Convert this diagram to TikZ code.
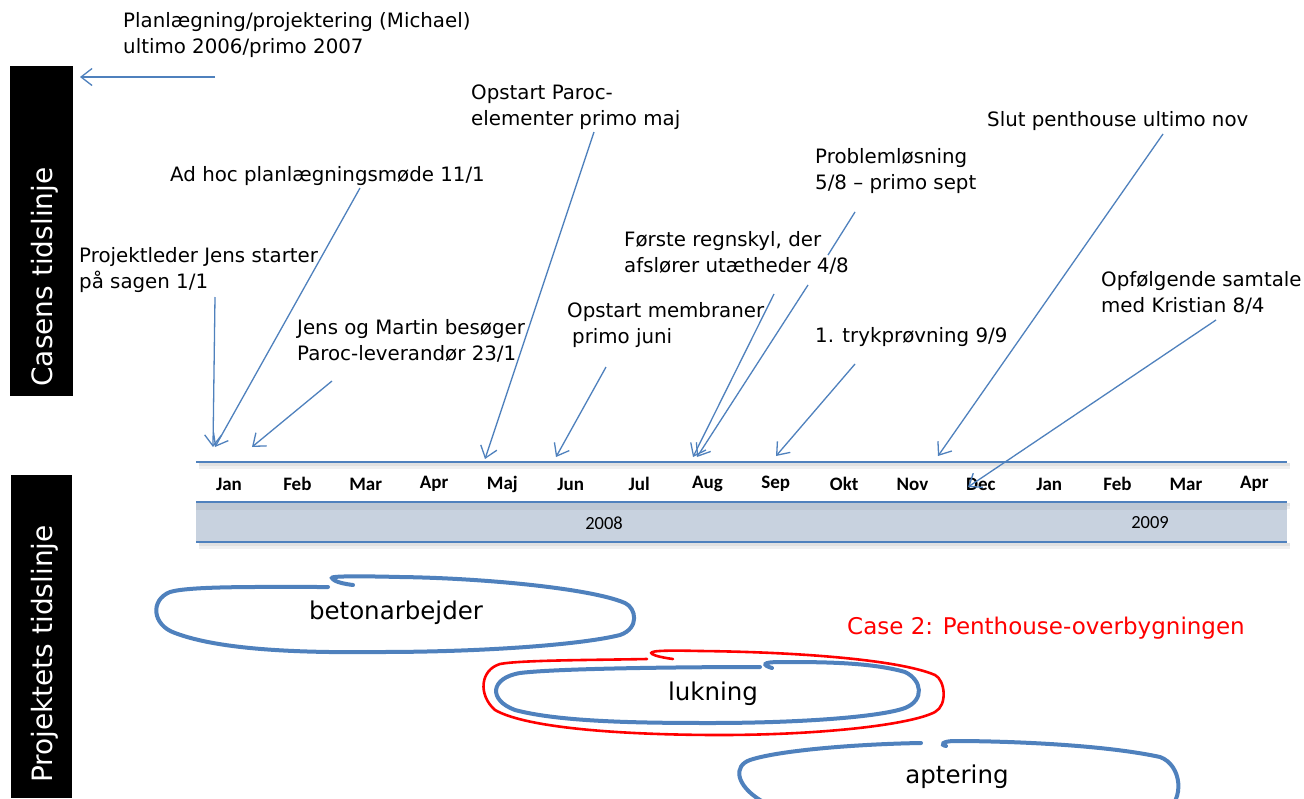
\documentclass[tikz,border=0pt]{standalone}
\usepackage{fontspec}
\setmainfont{DejaVu Sans}
\newfontfamily\calfont{Carlito}
\usetikzlibrary{arrows.meta}
\definecolor{tlblue}{RGB}{79,129,189}
\definecolor{bandfill}{RGB}{200,210,223}
\begin{document}
\begin{tikzpicture}[x=1pt,y=-1pt,
  lbl/.style={font=\fontsize{19.8}{26}\selectfont, align=left, inner sep=0pt, anchor=west},
  mon/.style={font=\calfont\bfseries\fontsize{19}{21}\selectfont, inner sep=0pt},
  yr/.style={font=\calfont\fontsize{18.5}{20}\selectfont, inner sep=0pt},
  ptr/.style={draw=tlblue, line width=1.3pt, -{Straight Barb[length=11pt,width=17pt,line width=1.3pt]}},
  tline/.style={draw=tlblue, line width=2.2pt},
  loopblue/.style={draw=tlblue, line width=4pt, line cap=round},
  loopred/.style={draw=red, line width=2.6pt, line cap=round},
  sidetext/.style={text=white, rotate=90, font=\fontsize{28}{32}\selectfont, inner sep=0pt},
  tasktext/.style={font=\fontsize{24.5}{28}\selectfont, inner sep=0pt}
]
\useasboundingbox (0,0) rectangle (1304,798);
\clip (0,0) rectangle (1304,798);
\fill[white] (0,0) rectangle (1304,798);

% side bars
\fill[black] (10,66) rectangle (73,396);
\fill[black] (11,475) rectangle (72,798);
\node[sidetext] (casens) at (45,277) {Casens tidslinje};
\node[sidetext] (projekt) at (45,654) {Projektets tidslinje};

% timeline shadows
\foreach \yy in {462,502,542}{
  \fill[black,opacity=0.06] (199,\yy+1) rectangle (1290,\yy+7);
  \fill[black,opacity=0.06] (199,\yy+1) rectangle (1290,\yy+4);
}
\fill[bandfill] (196,503) rectangle (1287,542);
\fill[black,opacity=0.05] (196,503) rectangle (1287,510);
\draw[tline] (196,462) -- (1287,462);
\draw[tline] (196,502) -- (1287,502);
\draw[tline] (196,542) -- (1287,542);

\foreach \m [count=\i from 0] in {Jan,Feb,Mar,Apr,Maj,Jun,Jul,Aug,Sep,Okt,Nov,Dec,Jan,Feb,Mar,Apr}
  \node[mon] (m\i) at ({229+68.35*\i},484) {\m};
\node[yr] (y2008) at (604,523) {2008};
\node[yr] (y2009) at (1150,523) {2009};

% labels
\node[lbl] (planl) at (123,35) {Planlægning/projektering (Michael)\\ultimo 2006/primo 2007};
\node[lbl] (paroc) at (471,107) {Opstart Paroc-\\elementer primo maj};
\node[lbl] (adhoc) at (170,176) {Ad hoc planlægningsmøde 11/1};
\node[lbl] (projl) at (79,270) {Projektleder Jens starter\\på sagen 1/1};
\node[lbl] (jensm) at (297,341) {Jens og Martin besøger\\Paroc-leverandør 23/1};
\node[lbl] (slut) at (987,121) {Slut penthouse ultimo nov};
\node[lbl] (probl) at (815,171) {Problemløsning\\5/8 – primo sept};
\node[lbl] (forste) at (624,253) {Første regnskyl, der\\afslører utætheder 4/8};
\node[lbl] (membr) at (567,325) {Opstart membraner\\\hspace*{5pt}primo juni};
\node[lbl] (tryk) at (815,337) {1. trykprøvning 9/9};
\node[lbl] (opf) at (1101,292.5) {Opfølgende samtale\\med Kristian 8/4};
\node[lbl, text=red, font=\fontsize{23}{28}\selectfont] (case2) at (847,628) {Case 2: Penthouse-overbygningen};

% connector points
\coordinate (a0s) at (215,77);   \coordinate (a0e) at (80,77);
\coordinate (a1s) at (215,297);  \coordinate (a1e) at (213,447);
\coordinate (a2s) at (360,188);  \coordinate (a2e) at (215,447);
\coordinate (a3s) at (332,381);  \coordinate (a3e) at (252,447);
\coordinate (a4s) at (594,132);  \coordinate (a4e) at (485,459);
\coordinate (a5s) at (606,367);  \coordinate (a5e) at (556,457);
\coordinate (a6s) at (774,294);  \coordinate (a6e) at (693,457);
\coordinate (a7s) at (855,212);  \coordinate (a7m) at (828,255);
\coordinate (a7n) at (808,285);  \coordinate (a7e) at (697,457);
\coordinate (a8s) at (855,364);  \coordinate (a8e) at (776,456);
\coordinate (a9s) at (1163,134); \coordinate (a9e) at (938,456);
\coordinate (a10s) at (1216,320); \coordinate (a10e) at (968,487);

\draw[ptr] (a0s) -- (a0e);
\draw[ptr] (a1s) -- (a1e);
\draw[ptr] (a2s) -- (a2e);
\draw[ptr] (a3s) -- (a3e);
\draw[ptr] (a4s) -- (a4e);
\draw[ptr] (a5s) -- (a5e);
\draw[ptr] (a6s) -- (a6e);
\draw[ptr] (a7s) -- (a7m) (a7n) -- (a7e);
\draw[ptr] (a8s) -- (a8e);
\draw[ptr] (a9s) -- (a9e);
\draw[ptr] (a10s) -- (a10e);

% task loops
\draw[loopblue] (328,587) .. controls (260,587) and (190,586) .. (170,592)
  .. controls (150,600) and (152,625) .. (175,633)
  .. controls (220,650) and (300,653) .. (380,652)
  .. controls (480,652) and (580,645) .. (620,635)
  .. controls (640,628) and (636,608) .. (625,603)
  .. controls (590,588) and (480,578) .. (400,577)
  .. controls (360,576) and (330,576) .. (332,578)
  .. controls (334,582) and (345,584) .. (353,585);
\node[tasktext] (beton) at (396,613) {betonarbejder};

\draw[loopred] (647,659) .. controls (600,660) and (520,660) .. (500,664)
  .. controls (480,670) and (478,695) .. (495,710)
  .. controls (530,730) and (640,735) .. (720,735)
  .. controls (820,735) and (910,725) .. (935,712)
  .. controls (948,705) and (945,680) .. (935,675)
  .. controls (900,660) and (800,652) .. (700,651)
  .. controls (660,650) and (648,651) .. (652,654)
  .. controls (655,656) and (665,658) .. (673,659);

\draw[loopblue] (760,667) .. controls (700,667) and (560,668) .. (520,673)
  .. controls (490,678) and (488,700) .. (515,710)
  .. controls (560,722) and (640,723) .. (710,723)
  .. controls (800,723) and (880,717) .. (905,708)
  .. controls (925,700) and (922,680) .. (905,672)
  .. controls (870,662) and (820,662) .. (780,662)
  .. controls (762,662) and (762,665) .. (772,668);
\node[tasktext] (lukn) at (713,694) {lukning};

\draw[loopblue] (921,743) .. controls (860,744) and (780,750) .. (750,760)
  .. controls (733,766) and (736,785) .. (760,800)
  .. controls (800,825) and (1100,827) .. (1165,812)
  .. controls (1185,800) and (1182,765) .. (1160,757)
  .. controls (1100,744) and (1000,741) .. (955,741)
  .. controls (942,741) and (940,745) .. (946,746);
\node[tasktext] (apt) at (957,777) {aptering};
\end{tikzpicture}
\end{document}
